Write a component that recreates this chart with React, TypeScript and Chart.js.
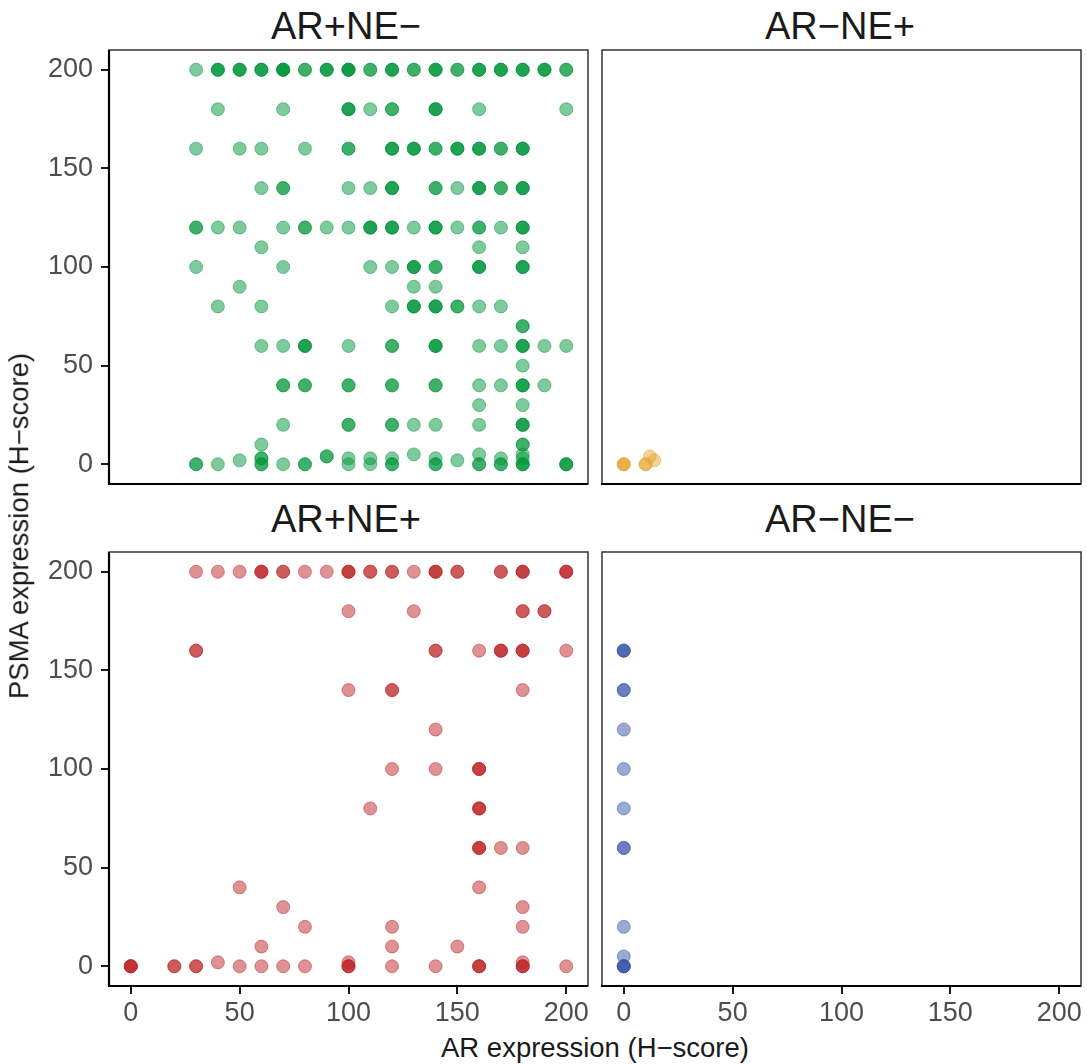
import React, { useEffect, useRef } from "react";
import { Chart, registerables } from "chart.js";
Chart.register(...registerables);

// [AR H-score, PSMA H-score, number of overlapping cases]
type Pt = [number, number, number];

const arPosNeNeg: Pt[] = [
  [30,200,1],[40,200,3],[50,200,3],[60,200,3],[70,200,4],[80,200,2],[90,200,3],[100,200,4],[110,200,2],[120,200,3],[130,200,2],[140,200,3],[150,200,2],[160,200,3],[170,200,3],[180,200,3],[190,200,3],[200,200,2],
  [40,180,1],[70,180,1],[100,180,3],[110,180,1],[120,180,2],[140,180,3],[160,180,1],[200,180,1],
  [30,160,1],[50,160,1],[60,160,1],[80,160,1],[100,160,2],[120,160,3],[130,160,3],[140,160,2],[150,160,3],[160,160,3],[170,160,2],[180,160,3],
  [60,140,1],[70,140,2],[100,140,1],[110,140,1],[120,140,3],[140,140,2],[150,140,1],[160,140,3],[170,140,2],[180,140,3],
  [30,120,2],[40,120,1],[50,120,1],[70,120,1],[80,120,2],[90,120,1],[100,120,1],[110,120,3],[120,120,3],[130,120,1],[140,120,3],[150,120,1],[160,120,2],[170,120,1],[180,120,3],
  [60,110,1],[160,110,1],[180,110,1],
  [30,100,1],[70,100,1],[110,100,1],[120,100,1],[130,100,3],[140,100,2],[160,100,3],[180,100,3],
  [50,90,1],[130,90,1],[140,90,1],
  [40,80,1],[60,80,1],[120,80,1],[130,80,3],[140,80,3],[150,80,2],[160,80,1],[170,80,1],
  [180,70,2],
  [60,60,1],[70,60,1],[80,60,3],[100,60,1],[120,60,2],[140,60,3],[160,60,1],[170,60,1],[180,60,3],[190,60,1],[200,60,1],
  [180,50,1],
  [70,40,2],[80,40,2],[100,40,2],[120,40,2],[140,40,2],[160,40,1],[170,40,1],[180,40,3],[190,40,1],
  [160,30,1],[180,30,1],
  [70,20,1],[100,20,2],[120,20,2],[130,20,1],[140,20,1],[160,20,1],[180,20,3],
  [60,10,1],[180,10,2],
  [30,0,2],[40,0,1],[50,2,1],[60,0,2],[60,3,2],[70,0,1],[80,0,2],[90,4,2],[100,0,1],[100,3,1],[110,0,1],[110,3,1],[120,0,2],[120,3,1],[130,5,1],[140,0,2],[140,3,1],[150,2,1],[160,0,2],[160,5,1],[170,0,2],[170,3,1],[180,0,3],[180,3,1],[180,5,1],[200,0,3],
];

const arNegNePos: Pt[] = [
  [0,0,3],[10,0,2],[12,4,1],[14,2,1],
];

const arPosNePos: Pt[] = [
  [30,200,1],[40,200,1],[50,200,1],[60,200,3],[70,200,2],[80,200,1],[90,200,1],[100,200,3],[110,200,2],[120,200,2],[130,200,1],[140,200,3],[150,200,2],[170,200,2],[180,200,3],[200,200,3],
  [100,180,1],[130,180,1],[180,180,2],[190,180,2],
  [30,160,2],[140,160,2],[160,160,1],[170,160,3],[180,160,3],[200,160,1],
  [100,140,1],[120,140,2],[180,140,1],
  [140,120,1],
  [120,100,1],[140,100,1],[160,100,3],
  [110,80,1],[160,80,3],
  [160,60,3],[170,60,1],[180,60,1],
  [50,40,1],[160,40,1],
  [70,30,1],[180,30,1],
  [80,20,1],[120,20,1],[180,20,1],
  [60,10,1],[120,10,1],[150,10,1],
  [0,0,4],[20,0,2],[30,0,2],[40,2,1],[50,0,1],[60,0,1],[70,0,1],[80,0,1],[100,0,3],[100,2,1],[120,0,1],[140,0,1],[160,0,3],[180,0,3],[180,2,1],[200,0,1],
];

const arNegNeNeg: Pt[] = [
  [0,160,3],[0,140,2],[0,120,1],[0,100,1],[0,80,1],[0,60,2],[0,20,1],[0,5,1],[0,0,4],
];

const tickValues = [0, 50, 100, 150, 200];
const axisMin = -10;
const axisMax = 210;
const panelTitles = ["AR+NE\u2212", "AR\u2212NE+", "AR+NE+", "AR\u2212NE\u2212"];
const xTitle = "AR expression (H\u2212score)";
const yTitle = "PSMA expression (H\u2212score)";

const FONT = "'Liberation Sans', Arial, Helvetica, sans-serif";

const framePlugin = {
  id: "frame",
  afterDraw(chart: any, _args: any, opts: any) {
    const { ctx, chartArea } = chart;
    const { left, top, right, bottom } = chartArea;
    ctx.save();
    ctx.strokeStyle = "#333333";
    ctx.lineWidth = 1.5;
    ctx.strokeRect(left, top, right - left, bottom - top);
    ctx.strokeStyle = "#000000";
    ctx.lineWidth = 2.2;
    ctx.beginPath();
    ctx.moveTo(left - 1, bottom);
    ctx.lineTo(right, bottom);
    if (opts && opts.leftAxis) {
      ctx.moveTo(left, top);
      ctx.lineTo(left, bottom + 1);
    }
    ctx.stroke();
    ctx.restore();
  },
};

type PanelProps = {
  data: Pt[];
  color: string;
  left: number;
  top: number;
  width: number;
  height: number;
  showX: boolean;
  showY: boolean;
  padding: { top: number; right: number; bottom: number; left: number };
};

function Panel({ data, color, left, top, width, height, showX, showY, padding }: PanelProps) {
  const ref = useRef<HTMLCanvasElement>(null);
  useEffect(() => {
    const pts: { x: number; y: number }[] = [];
    data.forEach(([x, y, n]) => {
      for (let i = 0; i < n; i++) pts.push({ x, y });
    });
    const tickFont = { family: FONT, size: 27 };
    const chart = new Chart(ref.current!, {
      type: "scatter",
      data: {
        datasets: [
          {
            data: pts,
            backgroundColor: color,
            borderColor: color,
            borderWidth: 1,
            pointRadius: 6.5,
            pointHoverRadius: 6.5,
          },
        ],
      },
      options: {
        animation: false,
        responsive: false,
        maintainAspectRatio: false,
        events: [],
        layout: { padding, autoPadding: false },
        plugins: {
          legend: { display: false },
          tooltip: { enabled: false },
          // @ts-ignore
          frame: { leftAxis: showY },
        },
        scales: {
          x: {
            type: "linear",
            min: axisMin,
            max: axisMax,
            display: showX,
            afterBuildTicks: (s: any) => {
              s.ticks = tickValues.map((v) => ({ value: v }));
            },
            afterFit: (s: any) => {
              s.height = showX ? 42 : 0;
              s.paddingLeft = 0;
              s.paddingRight = 0;
            },
            grid: { drawOnChartArea: false, drawTicks: true, tickLength: 8, color: "#1a1a1a", lineWidth: 2 },
            border: { display: false },
            ticks: { color: "#4d4d4d", font: tickFont, padding: 3, maxRotation: 0, autoSkip: false },
          },
          y: {
            type: "linear",
            min: axisMin,
            max: axisMax,
            display: showY,
            afterBuildTicks: (s: any) => {
              s.ticks = tickValues.map((v) => ({ value: v }));
            },
            afterFit: (s: any) => {
              s.width = showY ? 109 : 0;
              s.paddingTop = 0;
              s.paddingBottom = 0;
            },
            grid: { drawOnChartArea: false, drawTicks: true, tickLength: 8, color: "#1a1a1a", lineWidth: 2 },
            border: { display: false },
            ticks: { color: "#4d4d4d", font: tickFont, padding: 8, autoSkip: false },
          },
        },
      },
      plugins: [framePlugin as any],
    });
    return () => chart.destroy();
  }, []);
  return (
    <canvas
      ref={ref}
      width={width}
      height={height}
      style={{ position: "absolute", left, top, width, height }}
    />
  );
}

function Label({ text, x, y, size, rotate, color }: { text: string; x: number; y: number; size: number; rotate?: boolean; color?: string }) {
  return (
    <div
      style={{
        position: "absolute",
        left: x,
        top: y,
        transform: `translate(-50%, -50%)${rotate ? " rotate(-90deg)" : ""}`,
        fontFamily: FONT,
        fontSize: size,
        color: color || "#1a1a1a",
        whiteSpace: "nowrap",
        lineHeight: 1,
      }}
    >
      {text}
    </div>
  );
}

export default function App() {
  return (
    <div style={{ position: "absolute", left: 0, top: 0, width: 1087, height: 1064, background: "#fff", overflow: "hidden" }}>
      <Panel data={arPosNeNeg} color="rgba(0,150,58,0.5)" left={0} top={47} width={591} height={440} showX={false} showY={true} padding={{ top: 3, right: 3, bottom: 3, left: 0 }} />
      <Panel data={arNegNePos} color="rgba(232,165,50,0.5)" left={599} top={47} width={485} height={440} showX={false} showY={false} padding={{ top: 3, right: 3, bottom: 3, left: 3 }} />
      <Panel data={arPosNePos} color="rgba(190,38,40,0.5)" left={0} top={549} width={591} height={479} showX={true} showY={true} padding={{ top: 3, right: 3, bottom: 0, left: 0 }} />
      <Panel data={arNegNeNeg} color="rgba(58,86,168,0.5)" left={599} top={549} width={485} height={479} showX={true} showY={false} padding={{ top: 3, right: 3, bottom: 0, left: 3 }} />
      <Label text={panelTitles[0]} x={346} y={26} size={38} />
      <Label text={panelTitles[1]} x={840} y={26} size={38} />
      <Label text={panelTitles[2]} x={346} y={519} size={38} />
      <Label text={panelTitles[3]} x={840} y={519} size={38} />
      <Label text={xTitle} x={595} y={1048} size={27.5} />
      <Label text={yTitle} x={19} y={526} size={27.5} rotate={true} />
    </div>
  );
}
